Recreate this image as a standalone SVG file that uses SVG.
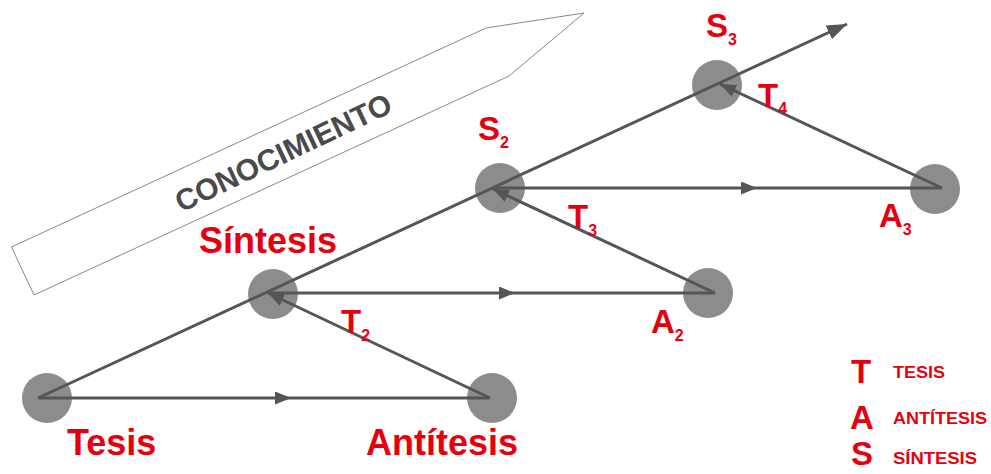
<svg xmlns="http://www.w3.org/2000/svg" width="991" height="474" viewBox="0 0 991 474">
<style>
.node{fill:#8c8c8c}
.ln{stroke:#555;stroke-width:3;fill:none}
.lbl{font-family:"Liberation Sans",Arial,sans-serif;font-weight:bold;fill:#e6000f}
.big{font-size:36px}
.mid{font-size:33px}
.sub{font-size:16px}
.leg{font-size:16px}
.legL{font-size:33px}
.know{font-family:"Liberation Sans",Arial,sans-serif;font-weight:bold;font-size:30px;fill:#4a4a4a}
</style>
<defs>
<marker id="ah" markerUnits="userSpaceOnUse" markerWidth="16" markerHeight="13" viewBox="0 0 16 13" refX="16" refY="6.5" orient="auto">
<path d="M0,0 L16,6.5 L0,13 z" fill="#555"/>
</marker>
<marker id="ahBig" markerUnits="userSpaceOnUse" markerWidth="20" markerHeight="15" viewBox="0 0 20 15" refX="20" refY="7.5" orient="auto">
<path d="M0,0 L20,7.5 L0,15 z" fill="#555"/>
</marker>
</defs>
<g id="conocimiento">
<polygon points="11.5,247 34,295 509,76 584,13 486,28" fill="#fff" stroke="#888" stroke-width="1"/>
<text class="know" x="283" y="163" text-anchor="middle" transform="rotate(-25.5 283 152)">CONOCIMIENTO</text>
</g>
<g id="node-tesis"><circle class="node" cx="47" cy="398" r="25"/></g>
<g id="node-antitesis"><circle class="node" cx="492" cy="398" r="25"/></g>
<g id="node-sintesis"><circle class="node" cx="273" cy="294" r="25"/></g>
<g id="node-a2"><circle class="node" cx="708" cy="293" r="25"/></g>
<g id="node-s2"><circle class="node" cx="500" cy="188" r="25"/></g>
<g id="node-a3"><circle class="node" cx="935" cy="189" r="25"/></g>
<g id="node-s3"><circle class="node" cx="717" cy="85" r="25"/></g>
<g id="connectors">
<path class="ln" d="M38 398 L847 24" marker-end="url(#ahBig)"/>
<path class="ln" d="M38 398 L291 398 L490 398" marker-mid="url(#ah)"/>
<path class="ln" d="M268 293 L515 293 L715 293" marker-mid="url(#ah)"/>
<path class="ln" d="M493 188 L757 188 L942 188" marker-mid="url(#ah)"/>
<path class="ln" d="M490 398 L268 293" marker-end="url(#ah)"/>
<path class="ln" d="M715 293 L493 189" marker-end="url(#ah)"/>
<path class="ln" d="M942 188 L720 84" marker-end="url(#ah)"/>
</g>
<g id="labels">
<text class="lbl big" x="67" y="455">Tesis</text>
<text class="lbl big" x="366" y="455">Antítesis</text>
<text class="lbl big" x="199" y="253">Síntesis</text>
<text class="lbl mid" x="341" y="333">T<tspan class="sub" dy="8">2</tspan></text>
<text class="lbl mid" x="651" y="333">A<tspan class="sub" dy="8">2</tspan></text>
<text class="lbl mid" x="478" y="140">S<tspan class="sub" dy="8">2</tspan></text>
<text class="lbl mid" x="568" y="228">T<tspan class="sub" dy="8">3</tspan></text>
<text class="lbl mid" x="879" y="227">A<tspan class="sub" dy="8">3</tspan></text>
<text class="lbl mid" x="706" y="37">S<tspan class="sub" dy="8">3</tspan></text>
<text class="lbl mid" x="758" y="107">T<tspan class="sub" dy="7">4</tspan></text>
</g>
<g id="legend">
<text class="lbl legL" x="851" y="383">T</text>
<text class="lbl legL" x="850" y="429">A</text>
<text class="lbl legL" x="851" y="465">S</text>
<text class="lbl leg" x="893" y="378" textLength="52" lengthAdjust="spacingAndGlyphs">TESIS</text>
<text class="lbl leg" x="893" y="424" textLength="94" lengthAdjust="spacingAndGlyphs">ANTÍTESIS</text>
<text class="lbl leg" x="893" y="464" textLength="84" lengthAdjust="spacingAndGlyphs">SÍNTESIS</text>
</g>
</svg>
